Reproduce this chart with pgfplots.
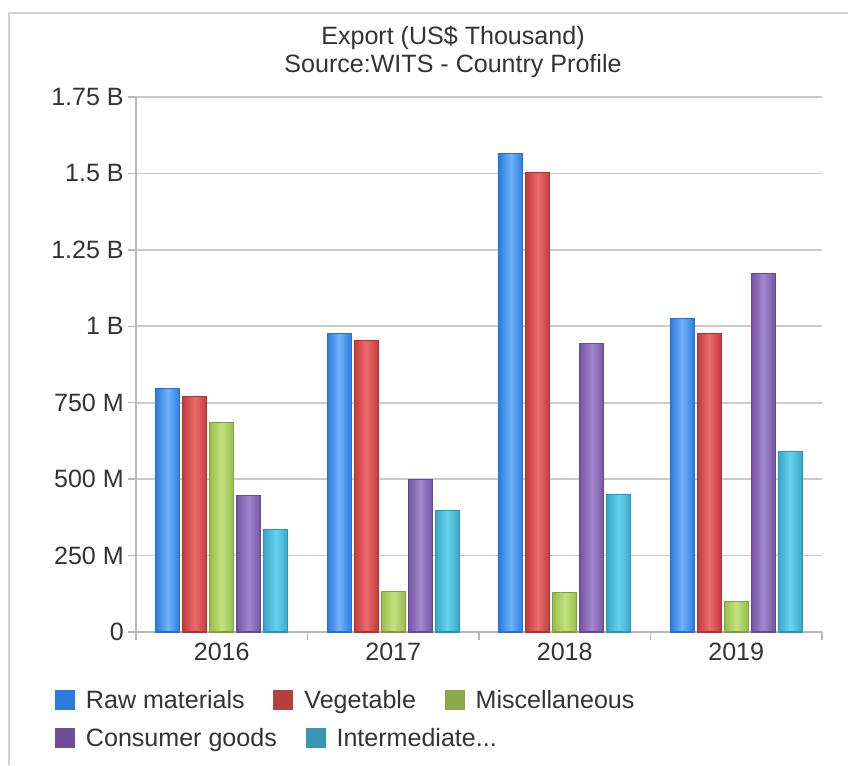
\documentclass[border=0pt]{standalone}
\usepackage{fontspec}
\setmainfont{Liberation Sans}
\usepackage{pgfplots}
\pgfplotsset{compat=1.18}
\definecolor{txt}{HTML}{333333}
\definecolor{gridc}{HTML}{CACACA}
\definecolor{axc}{HTML}{B8B8B8}
\definecolor{framec}{HTML}{D0D0D0}
% bar colours
\definecolor{rawE}{HTML}{2C7BE0}\definecolor{rawM}{HTML}{70B2FA}\definecolor{rawD}{HTML}{2A6FCC}
\definecolor{vegE}{HTML}{C43B3B}\definecolor{vegM}{HTML}{EA6B6B}\definecolor{vegD}{HTML}{AD3232}
\definecolor{misE}{HTML}{98BD4E}\definecolor{misM}{HTML}{C2E27E}\definecolor{misD}{HTML}{7F9F3C}
\definecolor{conE}{HTML}{7554A4}\definecolor{conM}{HTML}{A286CE}\definecolor{conD}{HTML}{654891}
\definecolor{intE}{HTML}{37A8C8}\definecolor{intM}{HTML}{66D2EE}\definecolor{intD}{HTML}{2E93B0}
% legend colours
\definecolor{rawL}{HTML}{2B7ADF}
\definecolor{vegL}{HTML}{B5403E}
\definecolor{misL}{HTML}{8AA94A}
\definecolor{conL}{HTML}{6D4D98}
\definecolor{intL}{HTML}{3897B1}

\pgfplotsset{
  mylegend/.style={
    legend image code/.code={\path[##1, draw=none] (0pt,-7.5pt) rectangle (15pt,7.5pt);},
    legend style={draw=none, fill=none, inner sep=0pt, outer sep=0pt,
      font=\fontsize{18.8}{21}\selectfont, text=txt,
      cells={anchor=west},
      nodes={inner sep=0pt, text height=13.46pt, text depth=0pt},
      /tikz/every odd column/.append style={column sep=8.25pt},
      /tikz/every even column/.append style={column sep=21.5pt},
      anchor=west},
  },
  common/.style={
    at={(102pt,99.75pt)}, anchor=south west,
    scale only axis, width=514.5pt, height=401.25pt,
    xmin=-0.5, xmax=3.5, ymin=0, ymax=1750,
  },
  rawbar/.style={ybar, bar width=18pt, bar shift=-40.5pt, draw=rawD, line width=0.8pt,
     left color=rawE, right color=rawE, middle color=rawM, forget plot},
  vegbar/.style={ybar, bar width=18pt, bar shift=-20.25pt, draw=vegD, line width=0.8pt,
     left color=vegE, right color=vegE, middle color=vegM, forget plot},
  misbar/.style={ybar, bar width=18pt, bar shift=0pt, draw=misD, line width=0.8pt,
     left color=misE, right color=misE, middle color=misM, forget plot},
  conbar/.style={ybar, bar width=18pt, bar shift=20.25pt, draw=conD, line width=0.8pt,
     left color=conE, right color=conE, middle color=conM, forget plot},
  intbar/.style={ybar, bar width=18pt, bar shift=40.5pt, draw=intD, line width=0.8pt,
     left color=intE, right color=intE, middle color=intM, forget plot},
}

\begin{document}
\fontsize{18.8}{21}\selectfont
\color{txt}
\begin{tikzpicture}
\useasboundingbox (0,0) rectangle (636pt,573.75pt);
\draw[framec, line width=1.3pt] (6.75pt,0) -- (6.75pt,564pt) -- (640pt,564pt);
\node[align=center, text=txt, font=\fontsize{18.8}{21}\selectfont] at (339.75pt,534.75pt)
  {Export (US\$ Thousand)\\Source:WITS - Country Profile};

\begin{axis}[common,
  axis lines*=left,
  axis line style={draw=axc, line width=1pt},
  tick style={draw=axc, line width=1pt},
  tick align=outside, major tick length=6pt,
  ymajorgrids, grid style={draw=gridc, line width=1.2pt},
  ytick={0,250,...,1750},
  yticklabels={0,250 M,500 M,750 M,1 B,1.25 B,1.5 B,1.75 B},
  yticklabel style={anchor=east, inner sep=0pt, xshift=-3pt, font=\fontsize{18.8}{21}\selectfont, text=txt},
  xtick={-0.5,0.5,1.5,2.5,3.5}, xticklabels={},
  extra x ticks={0,1,2,3},
  extra x tick labels={2016,2017,2018,2019},
  extra x tick style={major tick length=0pt, grid=none,
     xticklabel style={anchor=north, inner sep=0pt, yshift=-8.25pt, font=\fontsize{18.8}{21}\selectfont, text=txt}},
  mylegend,
  legend style={at={(-0.1181,-0.1271)}},
  legend columns=3,
]
% Raw materials
\addplot[rawbar] coordinates {(0,795)};
\addplot[rawbar] coordinates {(1,975)};
\addplot[rawbar] coordinates {(2,1564)};
\addplot[rawbar] coordinates {(3,1024)};
% Vegetable
\addplot[vegbar] coordinates {(0,769)};
\addplot[vegbar] coordinates {(1,955)};
\addplot[vegbar] coordinates {(2,1502)};
\addplot[vegbar] coordinates {(3,975)};
% Miscellaneous
\addplot[misbar] coordinates {(0,684)};
\addplot[misbar] coordinates {(1,131)};
\addplot[misbar] coordinates {(2,128)};
\addplot[misbar] coordinates {(3,101)};
% Consumer goods
\addplot[conbar] coordinates {(0,445)};
\addplot[conbar] coordinates {(1,500)};
\addplot[conbar] coordinates {(2,945)};
\addplot[conbar] coordinates {(3,1174)};
% Intermediate
\addplot[intbar] coordinates {(0,334)};
\addplot[intbar] coordinates {(1,396)};
\addplot[intbar] coordinates {(2,451)};
\addplot[intbar] coordinates {(3,589)};
\addlegendimage{fill=rawL}\addlegendentry{Raw materials}
\addlegendimage{fill=vegL}\addlegendentry{Vegetable}
\addlegendimage{fill=misL}\addlegendentry{Miscellaneous}
\end{axis}

\begin{axis}[common, hide axis,
  mylegend,
  legend style={at={(-0.1181,-0.1981)}},
  legend columns=2,
]
\addlegendimage{fill=conL}\addlegendentry{Consumer goods}
\addlegendimage{fill=intL}\addlegendentry{Intermediate...}
\end{axis}
\end{tikzpicture}
\end{document}
